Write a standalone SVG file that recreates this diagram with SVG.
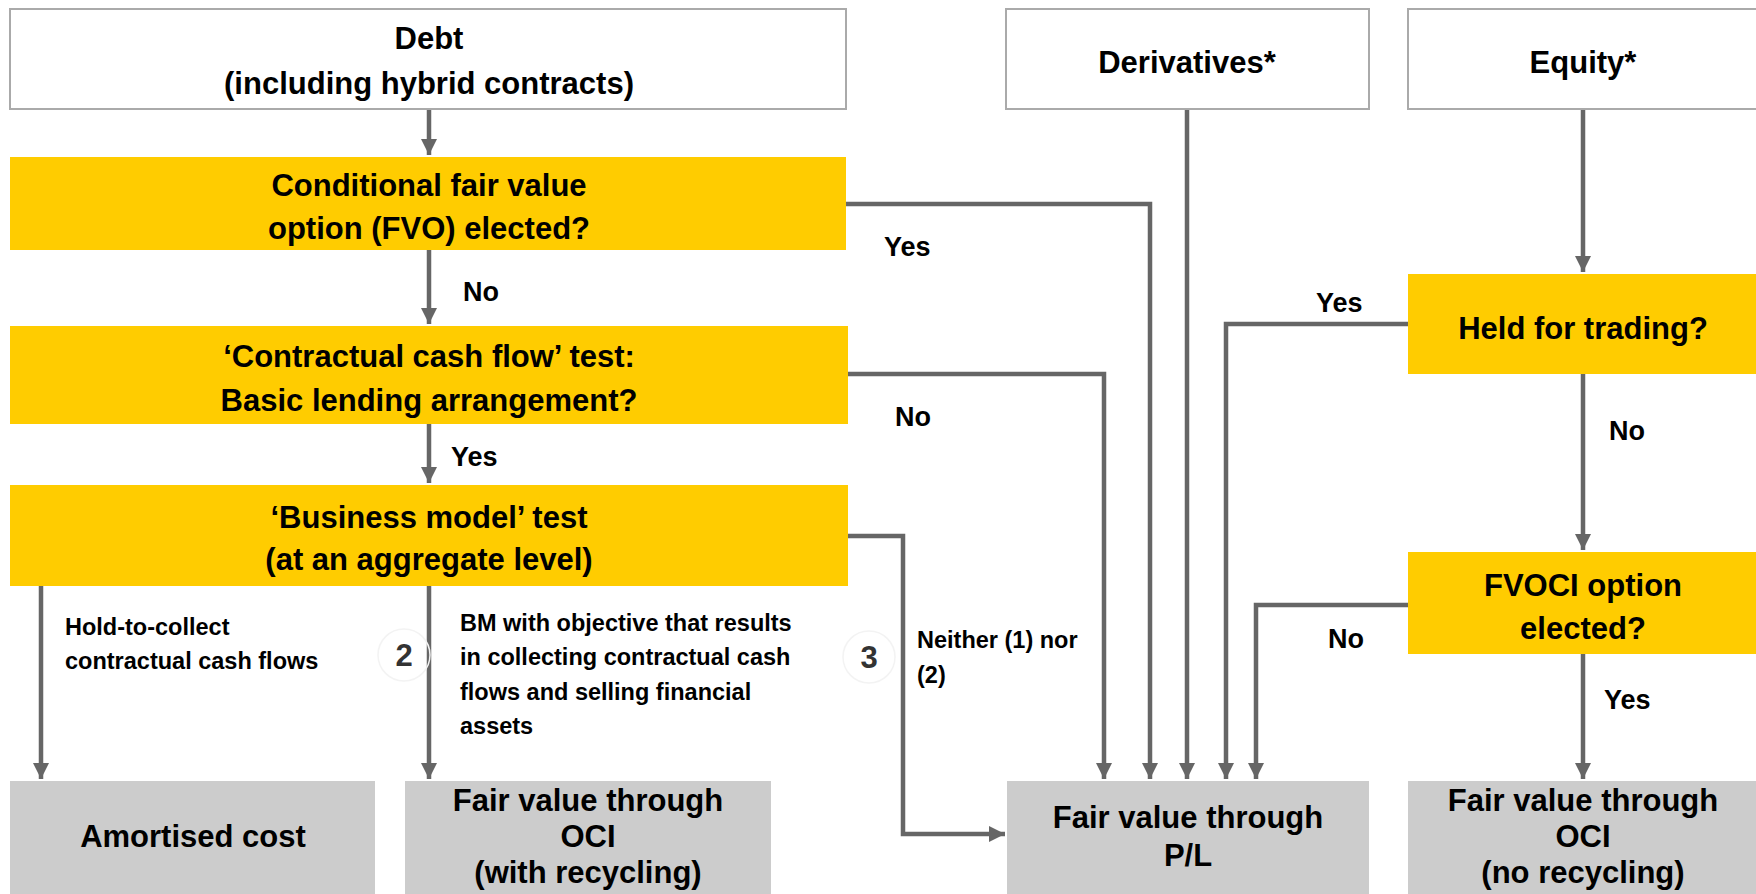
<svg xmlns="http://www.w3.org/2000/svg" width="1756" height="894" viewBox="0 0 1756 894">
<style>
.t{font-family:"Liberation Sans",Arial,sans-serif;font-weight:bold;fill:#000;text-anchor:middle}
.big{font-size:31px}
.lbl{font-size:27px;text-anchor:start}
.sm{font-size:23.5px;text-anchor:start}
.num{font-size:31px;fill:#333}
.wbox{fill:#fff;stroke:#aaa;stroke-width:2}
.ybox{fill:#ffcc00}
.gbox{fill:#cccccc}
.c{fill:none;stroke:#666;stroke-width:4.5;stroke-linejoin:miter}
.circ{fill:none;stroke:#f3f3f3;stroke-width:1.5}
</style>
<defs>
<marker id="ah" markerUnits="userSpaceOnUse" markerWidth="16" markerHeight="20" refX="16" refY="8" orient="auto">
<path d="M0,0 L16,8 L0,16 Z" fill="#666"/>
</marker>
</defs>
<rect width="1756" height="894" fill="#fff"/>

<g id="connectors">
<path class="c" d="M429,109 V155" marker-end="url(#ah)"/>
<path class="c" d="M429,250 V324" marker-end="url(#ah)"/>
<path class="c" d="M429,424 V483" marker-end="url(#ah)"/>
<path class="c" d="M846,204 H1150 V779" marker-end="url(#ah)"/>
<path class="c" d="M848,374 H1104 V779" marker-end="url(#ah)"/>
<path class="c" d="M1187,109 V779" marker-end="url(#ah)"/>
<path class="c" d="M1408,324 H1226 V779" marker-end="url(#ah)"/>
<path class="c" d="M1408,605 H1256 V779" marker-end="url(#ah)"/>
<path class="c" d="M848,536 H903 V834 H1005" marker-end="url(#ah)"/>
<path class="c" d="M41,586 V779" marker-end="url(#ah)"/>
<path class="c" d="M429,586 V779" marker-end="url(#ah)"/>
<path class="c" d="M1583,109 V272" marker-end="url(#ah)"/>
<path class="c" d="M1583,374 V550" marker-end="url(#ah)"/>
<path class="c" d="M1583,654 V779" marker-end="url(#ah)"/>
<text class="t lbl" x="884" y="256">Yes</text>
<text class="t lbl" x="463" y="301">No</text>
<text class="t lbl" x="451" y="466">Yes</text>
<text class="t lbl" x="895" y="426">No</text>
<text class="t lbl" x="1316" y="312">Yes</text>
<text class="t lbl" x="1328" y="648">No</text>
<text class="t lbl" x="1609" y="440">No</text>
<text class="t lbl" x="1604" y="709">Yes</text>
<text class="t sm" x="65" y="635">Hold-to-collect</text>
<text class="t sm" x="65" y="669">contractual cash flows</text>
<text class="t sm" x="460" y="631">BM with objective that results</text>
<text class="t sm" x="460" y="665">in collecting contractual cash</text>
<text class="t sm" x="460" y="700">flows and selling financial</text>
<text class="t sm" x="460" y="734">assets</text>
<text class="t sm" x="917" y="648">Neither (1) nor</text>
<text class="t sm" x="917" y="683">(2)</text>
<circle class="circ" cx="404" cy="655" r="26"/>
<text class="t num" x="404" y="666">2</text>
<circle class="circ" cx="869" cy="657" r="26"/>
<text class="t num" x="869" y="668">3</text>
</g>

<g id="debt">
<rect class="wbox" x="10" y="9" width="836" height="100"/>
<text class="t big" x="429" y="49">Debt</text>
<text class="t big" x="429" y="94">(including hybrid contracts)</text>
</g>
<g id="derivatives">
<rect class="wbox" x="1006" y="9" width="363" height="100"/>
<text class="t big" x="1187" y="73">Derivatives*</text>
</g>
<g id="equity">
<rect class="wbox" x="1408" y="9" width="360" height="100"/>
<text class="t big" x="1583" y="73">Equity*</text>
</g>
<g id="fvo">
<rect class="ybox" x="10" y="157" width="836" height="93"/>
<text class="t big" x="429" y="196">Conditional  fair value</text>
<text class="t big" x="429" y="239">option (FVO) elected?</text>
</g>
<g id="ccf">
<rect class="ybox" x="10" y="326" width="838" height="98"/>
<text class="t big" x="429" y="367">‘Contractual  cash flow’ test:</text>
<text class="t big" x="429" y="411">Basic lending arrangement?</text>
</g>
<g id="bm">
<rect class="ybox" x="10" y="485" width="838" height="101"/>
<text class="t big" x="429" y="528">‘Business model’ test</text>
<text class="t big" x="429" y="570">(at an aggregate level)</text>
</g>
<g id="hft">
<rect class="ybox" x="1408" y="274" width="360" height="100"/>
<text class="t big" x="1583" y="339">Held for trading?</text>
</g>
<g id="fvoci-option">
<rect class="ybox" x="1408" y="552" width="360" height="102"/>
<text class="t big" x="1583" y="596">FVOCI option</text>
<text class="t big" x="1583" y="639">elected?</text>
</g>
<g id="amortised">
<rect class="gbox" x="10" y="781" width="365" height="120"/>
<text class="t big" x="193" y="847">Amortised  cost</text>
</g>
<g id="fvoci-rec">
<rect class="gbox" x="405" y="781" width="366" height="120"/>
<text class="t big" x="588" y="811">Fair value through</text>
<text class="t big" x="588" y="847">OCI</text>
<text class="t big" x="588" y="883">(with recycling)</text>
</g>
<g id="fvpl">
<rect class="gbox" x="1007" y="781" width="362" height="120"/>
<text class="t big" x="1188" y="828">Fair value through</text>
<text class="t big" x="1188" y="866">P/L</text>
</g>
<g id="fvoci-norec">
<rect class="gbox" x="1408" y="781" width="360" height="120"/>
<text class="t big" x="1583" y="811">Fair value through</text>
<text class="t big" x="1583" y="847">OCI</text>
<text class="t big" x="1583" y="883">(no recycling)</text>
</g>
</svg>
